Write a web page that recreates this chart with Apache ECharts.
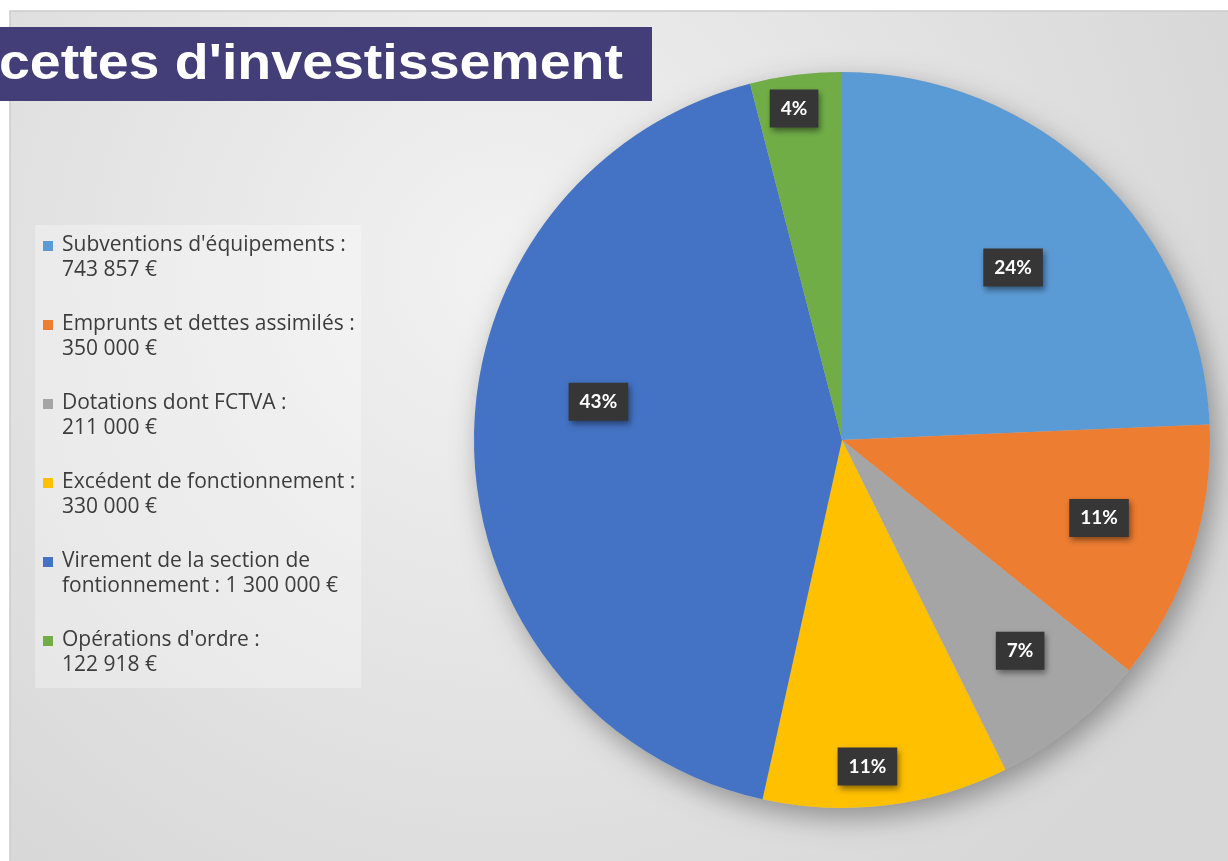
<!DOCTYPE html>
<html>
<head>
<meta charset="utf-8">
<script src="https://cdn.jsdelivr.net/npm/echarts@6/dist/echarts.min.js"></script>
<style>
  html, body { margin: 0; padding: 0; background: #fff; }
  #chart { width: 1228px; height: 861px; }
</style>
</head>
<body>
<div id="chart"></div>
<script>
// données
const categories = [
    "Subventions d'équipements",
    'Emprunts et dettes assimilés',
    'Dotations dont FCTVA',
    'Excédent de fonctionnement',
    'Virement de la section de\nfontionnement',
    "Opérations d'ordre"
];
const amounts = [743857, 350000, 211000, 330000, 1300000, 122918];
const colors = ['#5b9bd5', '#ed7d31', '#a5a5a5', '#ffc000', '#4472c4', '#70ad47'];
const titleText = "cettes d'investissement";

const chart = echarts.init(document.getElementById('chart'));

// géométrie du camembert
const cx = 842, cy = 440, R = 368;
// placement des étiquettes (façon "ajustement optimal" d'Excel) : [rayon relatif, décalage angulaire]
const labelPlacement = [[0.66, 1], [0.73, -1.3], [0.75, -1.4], [0.89, 2.5], [0.67, 9.9], [0.91, -1]];

const total = amounts.reduce((a, b) => a + b, 0);
const midAngles = [];
let acc = 0;
amounts.forEach(v => {
    midAngles.push((acc + v / 2) / total * 360);
    acc += v;
});

function fmtEuro(v) {
    return String(v).replace(/\B(?=(\d{3})+(?!\d))/g, ' ') + ' €';
}

const pieData = categories.map((name, i) => ({
    name: name,
    value: amounts[i],
    itemStyle: { color: colors[i] }
}));

chart.setOption({
    animation: false,
    graphic: [
        {
            type: 'rect', z: -10, silent: true,
            shape: { x: 10, y: 11, width: 1240, height: 870 },
            style: {
                fill: new echarts.graphic.RadialGradient(0.4, 0.3, 0.9, [
                    { offset: 0, color: '#f2f2f2' },
                    { offset: 1, color: '#d7d7d7' }
                ]),
                stroke: '#cbcbcb', lineWidth: 1.5
            }
        },
        {
            type: 'rect', z: 10,
            shape: { x: 0, y: 27, width: 652, height: 74 },
            style: { fill: '#433d78' }
        },
        {
            type: 'text', z: 11, x: -1, y: 65, scaleX: 1.11,
            style: {
                text: titleText,
                fill: '#fff',
                font: 'bold 50px "Liberation Sans", Arial, sans-serif',
                align: 'left', verticalAlign: 'middle'
            }
        }
    ],
    legend: {
        orient: 'vertical',
        left: 35,
        top: 225,
        padding: [8, 6, 10, 8],
        itemGap: 29,
        itemWidth: 10,
        itemHeight: 34,
        icon: 'path://M0,0H10V10H0Z M0,33.99H0.01V34H0Z',
        backgroundColor: 'rgba(255,255,255,0.3)',
        selectedMode: false,
        data: categories,
        formatter: function (name) {
            const i = categories.indexOf(name);
            const sep = name.indexOf('\n') >= 0 ? ' : ' : ' :\n';
            return name + sep + fmtEuro(amounts[i]);
        },
        textStyle: {
            fontFamily: '"Open Sans", sans-serif',
            fontSize: 21,
            lineHeight: 25,
            color: '#3c3c3c',
            padding: [0, 0, 0, 4]
        }
    },
    series: [
        {
            // ombre portée sous le disque
            type: 'pie',
            silent: true,
            z: 1,
            center: [cx, cy],
            radius: R,
            label: { show: false },
            itemStyle: {
                color: '#bbbbbb',
                shadowBlur: 28,
                shadowOffsetX: 6,
                shadowOffsetY: 10,
                shadowColor: 'rgba(0,0,0,0.35)'
            },
            data: [{ value: 1, name: '' }]
        },
        {
            type: 'pie',
            z: 2,
            center: [cx, cy],
            radius: R,
            startAngle: 90,
            clockwise: true,
            avoidLabelOverlap: false,
            itemStyle: { borderWidth: 0 },
            label: {
                show: true,
                position: 'inside',
                formatter: p => Math.round(p.percent) + '%',
                color: '#fff',
                fontFamily: 'Lato, sans-serif',
                fontWeight: 'bold',
                fontSize: 19,
                backgroundColor: '#363636',
                padding: [10, 11, 9, 11],
                shadowBlur: 6,
                shadowOffsetX: 2,
                shadowOffsetY: 3,
                shadowColor: 'rgba(0,0,0,0.45)'
            },
            labelLayout: function (p) {
                const i = p.dataIndex;
                const a = (midAngles[i] + labelPlacement[i][1]) * Math.PI / 180;
                const r = labelPlacement[i][0] * R;
                return { x: cx + r * Math.sin(a), y: cy - r * Math.cos(a) };
            },
            emphasis: { disabled: true },
            data: pieData
        }
    ]
});
</script>
</body>
</html>
